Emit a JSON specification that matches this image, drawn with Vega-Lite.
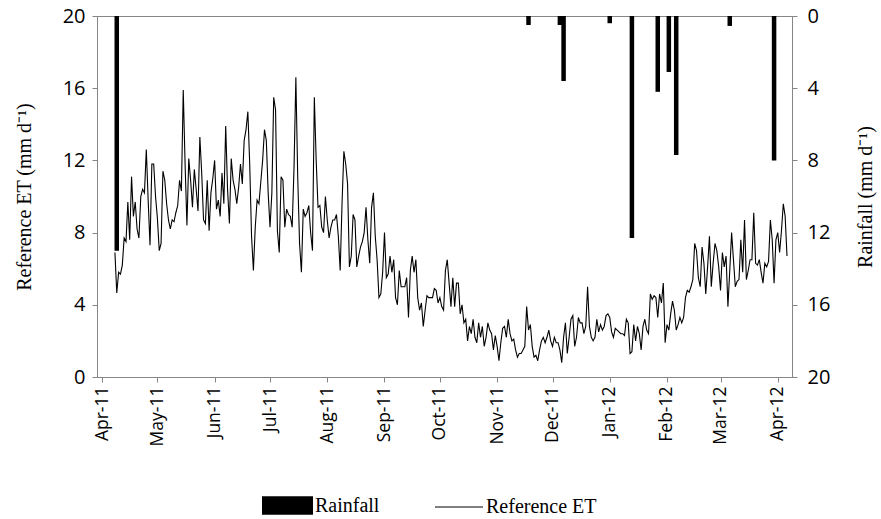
{
  "$schema": "https://vega.github.io/schema/vega-lite/v6.json",
  "width": 695,
  "height": 361,
  "autosize": "none",
  "padding": {"left": 97, "top": 16, "right": 89, "bottom": 142},
  "background": "white",
  "config": {
    "view": {"stroke": "#868686", "strokeWidth": 1},
    "axis": {
      "grid": false,
      "domainColor": "#868686",
      "tickColor": "#868686",
      "tickSize": 5,
      "labelColor": "#000000",
      "titleColor": "#000000",
      "labelFont": "Open Sans",
      "titleFont": "Liberation Serif",
      "titleFontWeight": "normal"
    },
    "legend": {
      "title": null,
      "labelFont": "Liberation Serif",
      "labelFontSize": 20,
      "labelColor": "#000000"
    }
  },
  "datasets": {
    "et": [
      {"date": "2011-04-08", "et": 6.9}, {"date": "2011-04-09", "et": 4.65}, {"date": "2011-04-10", "et": 5.8}, {"date": "2011-04-11", "et": 5.7},
      {"date": "2011-04-12", "et": 6.2}, {"date": "2011-04-13", "et": 7.7}, {"date": "2011-04-14", "et": 7.5}, {"date": "2011-04-15", "et": 9.7},
      {"date": "2011-04-16", "et": 7.6}, {"date": "2011-04-17", "et": 11.1}, {"date": "2011-04-18", "et": 8.9}, {"date": "2011-04-19", "et": 9.7},
      {"date": "2011-04-20", "et": 8.2}, {"date": "2011-04-21", "et": 7.7}, {"date": "2011-04-22", "et": 10.0}, {"date": "2011-04-23", "et": 10.4},
      {"date": "2011-04-24", "et": 10.2}, {"date": "2011-04-25", "et": 12.6}, {"date": "2011-04-26", "et": 9.8}, {"date": "2011-04-27", "et": 7.3},
      {"date": "2011-04-28", "et": 11.8}, {"date": "2011-04-29", "et": 11.8}, {"date": "2011-04-30", "et": 10.0},
      {"date": "2011-05-01", "et": 8.8}, {"date": "2011-05-02", "et": 7.0}, {"date": "2011-05-03", "et": 7.4}, {"date": "2011-05-04", "et": 11.4},
      {"date": "2011-05-05", "et": 10.9}, {"date": "2011-05-06", "et": 9.6}, {"date": "2011-05-07", "et": 8.7}, {"date": "2011-05-08", "et": 8.2},
      {"date": "2011-05-09", "et": 8.7}, {"date": "2011-05-10", "et": 8.6}, {"date": "2011-05-11", "et": 9.1}, {"date": "2011-05-12", "et": 9.5},
      {"date": "2011-05-13", "et": 10.9}, {"date": "2011-05-14", "et": 10.3}, {"date": "2011-05-15", "et": 15.9}, {"date": "2011-05-16", "et": 11.8},
      {"date": "2011-05-17", "et": 8.4}, {"date": "2011-05-18", "et": 12.1}, {"date": "2011-05-19", "et": 10.9}, {"date": "2011-05-20", "et": 9.4},
      {"date": "2011-05-21", "et": 11.5}, {"date": "2011-05-22", "et": 10.4}, {"date": "2011-05-23", "et": 9.2}, {"date": "2011-05-24", "et": 13.3},
      {"date": "2011-05-25", "et": 11.3}, {"date": "2011-05-26", "et": 8.7}, {"date": "2011-05-27", "et": 8.5}, {"date": "2011-05-28", "et": 10.9},
      {"date": "2011-05-29", "et": 8.1}, {"date": "2011-05-30", "et": 10.2}, {"date": "2011-05-31", "et": 11.0},
      {"date": "2011-06-01", "et": 12.0}, {"date": "2011-06-02", "et": 9.3}, {"date": "2011-06-03", "et": 9.8}, {"date": "2011-06-04", "et": 8.9},
      {"date": "2011-06-05", "et": 11.3}, {"date": "2011-06-06", "et": 9.6}, {"date": "2011-06-07", "et": 13.9}, {"date": "2011-06-08", "et": 10.4},
      {"date": "2011-06-09", "et": 8.5}, {"date": "2011-06-10", "et": 12.1}, {"date": "2011-06-11", "et": 10.9}, {"date": "2011-06-12", "et": 10.4},
      {"date": "2011-06-13", "et": 9.6}, {"date": "2011-06-14", "et": 10.5}, {"date": "2011-06-15", "et": 11.8}, {"date": "2011-06-16", "et": 10.7},
      {"date": "2011-06-17", "et": 13.1}, {"date": "2011-06-18", "et": 13.7}, {"date": "2011-06-19", "et": 14.7}, {"date": "2011-06-20", "et": 11.8},
      {"date": "2011-06-21", "et": 7.8}, {"date": "2011-06-22", "et": 5.9}, {"date": "2011-06-23", "et": 8.3}, {"date": "2011-06-24", "et": 9.8},
      {"date": "2011-06-25", "et": 9.6}, {"date": "2011-06-26", "et": 10.8}, {"date": "2011-06-27", "et": 12.0}, {"date": "2011-06-28", "et": 13.7},
      {"date": "2011-06-29", "et": 13.1}, {"date": "2011-06-30", "et": 10.2},
      {"date": "2011-07-01", "et": 8.3}, {"date": "2011-07-02", "et": 10.2}, {"date": "2011-07-03", "et": 15.5}, {"date": "2011-07-04", "et": 14.8},
      {"date": "2011-07-05", "et": 8.1}, {"date": "2011-07-06", "et": 6.9}, {"date": "2011-07-07", "et": 11.1}, {"date": "2011-07-08", "et": 10.9},
      {"date": "2011-07-09", "et": 8.3}, {"date": "2011-07-10", "et": 9.3}, {"date": "2011-07-11", "et": 9.0}, {"date": "2011-07-12", "et": 8.9},
      {"date": "2011-07-13", "et": 8.3}, {"date": "2011-07-14", "et": 11.6}, {"date": "2011-07-15", "et": 16.6}, {"date": "2011-07-16", "et": 11.1},
      {"date": "2011-07-17", "et": 7.4}, {"date": "2011-07-18", "et": 5.8}, {"date": "2011-07-19", "et": 9.3}, {"date": "2011-07-20", "et": 8.9},
      {"date": "2011-07-21", "et": 9.1}, {"date": "2011-07-22", "et": 9.5}, {"date": "2011-07-23", "et": 8.0}, {"date": "2011-07-24", "et": 7.0},
      {"date": "2011-07-25", "et": 15.5}, {"date": "2011-07-26", "et": 12.0}, {"date": "2011-07-27", "et": 9.4}, {"date": "2011-07-28", "et": 9.5},
      {"date": "2011-07-29", "et": 8.3}, {"date": "2011-07-30", "et": 8.0}, {"date": "2011-07-31", "et": 10.0},
      {"date": "2011-08-01", "et": 8.7}, {"date": "2011-08-02", "et": 7.7}, {"date": "2011-08-03", "et": 8.3}, {"date": "2011-08-04", "et": 8.7},
      {"date": "2011-08-05", "et": 8.7}, {"date": "2011-08-06", "et": 9.0}, {"date": "2011-08-07", "et": 7.8}, {"date": "2011-08-08", "et": 5.9},
      {"date": "2011-08-09", "et": 9.6}, {"date": "2011-08-10", "et": 12.5}, {"date": "2011-08-11", "et": 11.8}, {"date": "2011-08-12", "et": 10.7},
      {"date": "2011-08-13", "et": 6.1}, {"date": "2011-08-14", "et": 6.7}, {"date": "2011-08-15", "et": 9.0}, {"date": "2011-08-16", "et": 8.7},
      {"date": "2011-08-17", "et": 6.1}, {"date": "2011-08-18", "et": 6.7}, {"date": "2011-08-19", "et": 7.2}, {"date": "2011-08-20", "et": 7.5},
      {"date": "2011-08-21", "et": 8.0}, {"date": "2011-08-22", "et": 9.4}, {"date": "2011-08-23", "et": 7.6}, {"date": "2011-08-24", "et": 6.3},
      {"date": "2011-08-25", "et": 9.4}, {"date": "2011-08-26", "et": 10.2}, {"date": "2011-08-27", "et": 7.8}, {"date": "2011-08-28", "et": 6.5},
      {"date": "2011-08-29", "et": 4.4}, {"date": "2011-08-30", "et": 4.6}, {"date": "2011-08-31", "et": 5.8},
      {"date": "2011-09-01", "et": 8.0}, {"date": "2011-09-02", "et": 5.5}, {"date": "2011-09-03", "et": 5.7}, {"date": "2011-09-04", "et": 6.7},
      {"date": "2011-09-05", "et": 5.8}, {"date": "2011-09-06", "et": 6.5}, {"date": "2011-09-07", "et": 4.4}, {"date": "2011-09-08", "et": 4.0},
      {"date": "2011-09-09", "et": 5.9}, {"date": "2011-09-10", "et": 5.0}, {"date": "2011-09-11", "et": 5.0}, {"date": "2011-09-12", "et": 5.0},
      {"date": "2011-09-13", "et": 5.5}, {"date": "2011-09-14", "et": 3.3}, {"date": "2011-09-15", "et": 5.9}, {"date": "2011-09-16", "et": 6.7},
      {"date": "2011-09-17", "et": 5.8}, {"date": "2011-09-18", "et": 6.5}, {"date": "2011-09-19", "et": 4.4}, {"date": "2011-09-20", "et": 3.7},
      {"date": "2011-09-21", "et": 4.1}, {"date": "2011-09-22", "et": 2.8}, {"date": "2011-09-23", "et": 3.7}, {"date": "2011-09-24", "et": 4.5},
      {"date": "2011-09-25", "et": 4.4}, {"date": "2011-09-26", "et": 4.4}, {"date": "2011-09-27", "et": 4.4}, {"date": "2011-09-28", "et": 4.9},
      {"date": "2011-09-29", "et": 4.8}, {"date": "2011-09-30", "et": 4.1},
      {"date": "2011-10-01", "et": 4.4}, {"date": "2011-10-02", "et": 3.9}, {"date": "2011-10-03", "et": 3.7}, {"date": "2011-10-04", "et": 5.9},
      {"date": "2011-10-05", "et": 6.5}, {"date": "2011-10-06", "et": 5.2}, {"date": "2011-10-07", "et": 3.9}, {"date": "2011-10-08", "et": 5.5},
      {"date": "2011-10-09", "et": 3.9}, {"date": "2011-10-10", "et": 5.2}, {"date": "2011-10-11", "et": 5.2}, {"date": "2011-10-12", "et": 3.5},
      {"date": "2011-10-13", "et": 4.0}, {"date": "2011-10-14", "et": 3.0}, {"date": "2011-10-15", "et": 3.2}, {"date": "2011-10-16", "et": 2.0},
      {"date": "2011-10-17", "et": 2.8}, {"date": "2011-10-18", "et": 2.4}, {"date": "2011-10-19", "et": 3.2}, {"date": "2011-10-20", "et": 2.2},
      {"date": "2011-10-21", "et": 1.9}, {"date": "2011-10-22", "et": 3.0}, {"date": "2011-10-23", "et": 2.2}, {"date": "2011-10-24", "et": 2.8},
      {"date": "2011-10-25", "et": 1.7}, {"date": "2011-10-26", "et": 2.2}, {"date": "2011-10-27", "et": 3.0}, {"date": "2011-10-28", "et": 2.6},
      {"date": "2011-10-29", "et": 2.4}, {"date": "2011-10-30", "et": 1.5}, {"date": "2011-10-31", "et": 2.3},
      {"date": "2011-11-01", "et": 1.7}, {"date": "2011-11-02", "et": 0.9}, {"date": "2011-11-03", "et": 1.9}, {"date": "2011-11-04", "et": 2.7},
      {"date": "2011-11-05", "et": 2.8}, {"date": "2011-11-06", "et": 2.2}, {"date": "2011-11-07", "et": 3.2}, {"date": "2011-11-08", "et": 2.4},
      {"date": "2011-11-09", "et": 2.0}, {"date": "2011-11-10", "et": 2.1}, {"date": "2011-11-11", "et": 1.5}, {"date": "2011-11-12", "et": 1.1},
      {"date": "2011-11-13", "et": 1.3}, {"date": "2011-11-14", "et": 1.3}, {"date": "2011-11-15", "et": 1.5}, {"date": "2011-11-16", "et": 1.7},
      {"date": "2011-11-17", "et": 3.9}, {"date": "2011-11-18", "et": 2.6}, {"date": "2011-11-19", "et": 2.9}, {"date": "2011-11-20", "et": 1.7},
      {"date": "2011-11-21", "et": 1.1}, {"date": "2011-11-22", "et": 1.2}, {"date": "2011-11-23", "et": 0.9}, {"date": "2011-11-24", "et": 1.5},
      {"date": "2011-11-25", "et": 2.0}, {"date": "2011-11-26", "et": 2.2}, {"date": "2011-11-27", "et": 1.9}, {"date": "2011-11-28", "et": 2.2},
      {"date": "2011-11-29", "et": 2.6}, {"date": "2011-11-30", "et": 2.0},
      {"date": "2011-12-01", "et": 1.7}, {"date": "2011-12-02", "et": 2.2}, {"date": "2011-12-03", "et": 1.9}, {"date": "2011-12-04", "et": 1.9},
      {"date": "2011-12-05", "et": 1.5}, {"date": "2011-12-06", "et": 0.8}, {"date": "2011-12-07", "et": 2.2}, {"date": "2011-12-08", "et": 3.0},
      {"date": "2011-12-09", "et": 1.3}, {"date": "2011-12-10", "et": 2.2}, {"date": "2011-12-11", "et": 3.2}, {"date": "2011-12-12", "et": 3.4},
      {"date": "2011-12-13", "et": 1.7}, {"date": "2011-12-14", "et": 2.2}, {"date": "2011-12-15", "et": 3.3}, {"date": "2011-12-16", "et": 3.0},
      {"date": "2011-12-17", "et": 3.0}, {"date": "2011-12-18", "et": 2.4}, {"date": "2011-12-19", "et": 2.8}, {"date": "2011-12-20", "et": 5.0},
      {"date": "2011-12-21", "et": 2.8}, {"date": "2011-12-22", "et": 2.2}, {"date": "2011-12-23", "et": 2.0}, {"date": "2011-12-24", "et": 2.2},
      {"date": "2011-12-25", "et": 3.2}, {"date": "2011-12-26", "et": 2.5}, {"date": "2011-12-27", "et": 2.9}, {"date": "2011-12-28", "et": 2.6},
      {"date": "2011-12-29", "et": 2.8}, {"date": "2011-12-30", "et": 3.4}, {"date": "2011-12-31", "et": 3.5},
      {"date": "2012-01-01", "et": 3.3}, {"date": "2012-01-02", "et": 2.5}, {"date": "2012-01-03", "et": 2.2}, {"date": "2012-01-04", "et": 2.7},
      {"date": "2012-01-05", "et": 2.6}, {"date": "2012-01-06", "et": 2.5}, {"date": "2012-01-07", "et": 2.4}, {"date": "2012-01-08", "et": 2.4},
      {"date": "2012-01-09", "et": 2.3}, {"date": "2012-01-10", "et": 3.2}, {"date": "2012-01-11", "et": 3.0}, {"date": "2012-01-12", "et": 1.3},
      {"date": "2012-01-13", "et": 1.4}, {"date": "2012-01-14", "et": 2.9}, {"date": "2012-01-15", "et": 2.0}, {"date": "2012-01-16", "et": 2.8},
      {"date": "2012-01-17", "et": 2.4}, {"date": "2012-01-18", "et": 1.5}, {"date": "2012-01-19", "et": 2.8}, {"date": "2012-01-20", "et": 3.2},
      {"date": "2012-01-21", "et": 2.6}, {"date": "2012-01-22", "et": 2.4}, {"date": "2012-01-23", "et": 4.6}, {"date": "2012-01-24", "et": 4.3},
      {"date": "2012-01-25", "et": 4.5}, {"date": "2012-01-26", "et": 4.4}, {"date": "2012-01-27", "et": 3.3}, {"date": "2012-01-28", "et": 4.6},
      {"date": "2012-01-29", "et": 4.1}, {"date": "2012-01-30", "et": 5.2}, {"date": "2012-01-31", "et": 1.9},
      {"date": "2012-02-01", "et": 2.9}, {"date": "2012-02-02", "et": 2.6}, {"date": "2012-02-03", "et": 3.5}, {"date": "2012-02-04", "et": 4.2},
      {"date": "2012-02-05", "et": 3.7}, {"date": "2012-02-06", "et": 2.6}, {"date": "2012-02-07", "et": 2.9}, {"date": "2012-02-08", "et": 3.3},
      {"date": "2012-02-09", "et": 3.0}, {"date": "2012-02-10", "et": 3.3}, {"date": "2012-02-11", "et": 4.4}, {"date": "2012-02-12", "et": 4.8},
      {"date": "2012-02-13", "et": 4.7}, {"date": "2012-02-14", "et": 5.0}, {"date": "2012-02-15", "et": 5.4}, {"date": "2012-02-16", "et": 7.4},
      {"date": "2012-02-17", "et": 7.0}, {"date": "2012-02-18", "et": 5.5}, {"date": "2012-02-19", "et": 5.0}, {"date": "2012-02-20", "et": 7.2},
      {"date": "2012-02-21", "et": 6.3}, {"date": "2012-02-22", "et": 4.6}, {"date": "2012-02-23", "et": 6.1}, {"date": "2012-02-24", "et": 7.8},
      {"date": "2012-02-25", "et": 5.0}, {"date": "2012-02-26", "et": 6.3}, {"date": "2012-02-27", "et": 7.4}, {"date": "2012-02-28", "et": 7.0},
      {"date": "2012-02-29", "et": 6.1},
      {"date": "2012-03-01", "et": 4.8}, {"date": "2012-03-02", "et": 6.9}, {"date": "2012-03-03", "et": 6.1}, {"date": "2012-03-04", "et": 6.7},
      {"date": "2012-03-05", "et": 3.9}, {"date": "2012-03-06", "et": 5.9}, {"date": "2012-03-07", "et": 8.0}, {"date": "2012-03-08", "et": 6.5},
      {"date": "2012-03-09", "et": 5.0}, {"date": "2012-03-10", "et": 5.3}, {"date": "2012-03-11", "et": 5.4}, {"date": "2012-03-12", "et": 7.6},
      {"date": "2012-03-13", "et": 5.8}, {"date": "2012-03-14", "et": 8.7}, {"date": "2012-03-15", "et": 5.4}, {"date": "2012-03-16", "et": 5.9},
      {"date": "2012-03-17", "et": 6.5}, {"date": "2012-03-18", "et": 6.5}, {"date": "2012-03-19", "et": 9.1}, {"date": "2012-03-20", "et": 6.3},
      {"date": "2012-03-21", "et": 6.2}, {"date": "2012-03-22", "et": 6.5}, {"date": "2012-03-23", "et": 5.8}, {"date": "2012-03-24", "et": 5.2},
      {"date": "2012-03-25", "et": 6.3}, {"date": "2012-03-26", "et": 6.1}, {"date": "2012-03-27", "et": 6.4}, {"date": "2012-03-28", "et": 8.7},
      {"date": "2012-03-29", "et": 7.6}, {"date": "2012-03-30", "et": 5.2}, {"date": "2012-03-31", "et": 7.6},
      {"date": "2012-04-01", "et": 8.0}, {"date": "2012-04-02", "et": 6.9}, {"date": "2012-04-03", "et": 8.1}, {"date": "2012-04-04", "et": 9.6},
      {"date": "2012-04-05", "et": 8.9}, {"date": "2012-04-06", "et": 6.7}
    ],
    "rain": [
      {"date": "2011-04-09", "rain": 13.0},
      {"date": "2011-11-18", "rain": 0.5},
      {"date": "2011-12-05", "rain": 0.5},
      {"date": "2011-12-07", "rain": 3.6},
      {"date": "2012-01-01", "rain": 0.4},
      {"date": "2012-01-13", "rain": 12.3},
      {"date": "2012-01-27", "rain": 4.2},
      {"date": "2012-02-02", "rain": 3.1},
      {"date": "2012-02-06", "rain": 7.7},
      {"date": "2012-03-06", "rain": 0.55},
      {"date": "2012-03-30", "rain": 8.0}
    ]
  },
  "layer": [
    {
      "data": {"name": "et"},
      "mark": {"type": "line", "strokeWidth": 1.1},
      "encoding": {
        "x": {
          "field": "date",
          "type": "temporal",
          "scale": {
            "type": "utc",
            "domain": [
              {"year": 2011, "month": 4, "date": 1, "utc": true},
              {"year": 2012, "month": 4, "date": 6, "utc": true}
            ]
          },
          "axis": {
            "title": null,
            "format": "%b-%y",
            "tickCount": {"interval": "month", "step": 1},
            "labelAngle": -90,
            "labelFontSize": 17.5,
            "labelPadding": 4
          }
        },
        "y": {
          "field": "et",
          "type": "quantitative",
          "scale": {"domain": [0, 20]},
          "axis": {
            "orient": "left",
            "title": "Reference ET (mm d⁻¹)",
            "values": [0, 4, 8, 12, 16, 20],
            "labelFontSize": 20,
            "labelPadding": 7,
            "titleFontSize": 20,
            "titlePadding": 28
          }
        },
        "stroke": {
          "datum": "Reference ET",
          "type": "nominal",
          "scale": {"range": ["#000000"]},
          "legend": {
            "orient": "none",
            "legendX": 337,
            "legendY": 466,
            "symbolType": "stroke",
            "symbolSize": 2304,
            "symbolStrokeWidth": 1.2,
            "labelOffset": 2
          }
        }
      }
    },
    {
      "data": {"name": "rain"},
      "mark": {"type": "bar", "size": 4.5},
      "encoding": {
        "x": {"field": "date", "type": "temporal"},
        "y": {
          "field": "rain",
          "type": "quantitative",
          "scale": {"domain": [0, 20], "reverse": true},
          "axis": {
            "orient": "right",
            "title": "Rainfall (mm d⁻¹)",
            "titleAngle": 270,
            "titleBaseline": "top",
            "values": [0, 4, 8, 12, 16, 20],
            "labelFontSize": 20,
            "labelPadding": 10,
            "titleFontSize": 20,
            "titlePadding": 26
          }
        },
        "fill": {
          "datum": "Rainfall",
          "type": "nominal",
          "scale": {"range": ["#000000"]},
          "legend": {
            "orient": "none",
            "legendX": 165,
            "legendY": 464,
            "symbolType": "M-1,-0.36H1V0.36H-1Z",
            "symbolSize": 2601,
            "symbolStrokeWidth": 0,
            "labelOffset": 2
          }
        }
      }
    }
  ],
  "resolve": {"scale": {"y": "independent"}}
}
